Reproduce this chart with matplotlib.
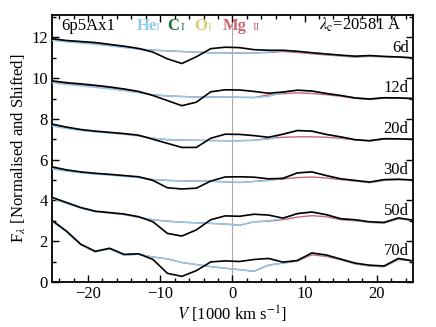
import matplotlib
matplotlib.use("Agg")
import matplotlib.pyplot as plt
from matplotlib.ticker import MultipleLocator

#### -------- データ -------- ####
velocity = [-25, -23, -21, -19, -17, -15, -13, -11, -9, -7, -5, -3, -1,
            1, 3, 5, 7, 9, 11, 13, 15, 17, 19, 21, 23, 25]

epochs = ["6d", "12d", "20d", "30d", "50d", "70d"]
offsets = [10, 8, 6, 4, 2, 0]

total_6d = [11.94, 11.85, 11.80, 11.75, 11.66, 11.57, 11.46, 11.28, 10.95, 10.72, 11.05, 11.45, 11.52,
            11.50, 11.40, 11.37, 11.37, 11.32, 11.25, 11.19, 11.13, 11.08, 11.11, 11.07, 11.04, 11.00]
he_6d = [11.86, 11.78, 11.72, 11.66, 11.58, 11.50, 11.43, 11.38, 11.34, 11.31, 11.28, 11.25, 11.24,
         11.24, 11.24, 11.28, 11.36, 11.31, 11.24, 11.18, 11.12, 11.06, 11.10, 11.06, 11.03, 11.00]
mg_6d = [11.90, 11.81, 11.76, 11.70, 11.62, 11.53, 11.43, 11.38, 11.34, 11.31, 11.28, 11.25, 11.24,
         11.24, 11.24, 11.26, 11.31, 11.26, 11.20, 11.14, 11.09, 11.03, 11.07, 11.05, 11.03, 11.00]

total_12d = [9.87, 9.78, 9.72, 9.65, 9.57, 9.47, 9.35, 9.15, 8.90, 8.65, 8.82, 9.33, 9.43,
             9.42, 9.35, 9.26, 9.32, 9.41, 9.37, 9.25, 9.15, 9.03, 8.98, 9.04, 9.03, 9.00]
he_12d = [9.77, 9.69, 9.62, 9.55, 9.47, 9.38, 9.28, 9.18, 9.13, 9.10, 9.08, 9.07, 9.07,
          9.06, 9.05, 9.10, 9.30, 9.41, 9.37, 9.25, 9.15, 9.03, 8.98, 9.04, 9.03, 9.00]
mg_12d = [9.83, 9.74, 9.68, 9.61, 9.53, 9.43, 9.31, 9.18, 9.13, 9.10, 9.08, 9.07, 9.07,
          9.06, 9.05, 9.18, 9.24, 9.28, 9.25, 9.19, 9.11, 9.01, 8.95, 9.02, 9.02, 9.00]

total_20d = [7.75, 7.60, 7.48, 7.40, 7.34, 7.28, 7.20, 7.00, 6.80, 6.60, 6.60, 7.05, 7.25,
             7.24, 7.18, 7.10, 7.25, 7.43, 7.40, 7.24, 7.12, 6.98, 6.93, 7.03, 7.02, 7.00]
he_20d = [7.65, 7.53, 7.43, 7.36, 7.30, 7.24, 7.16, 7.05, 6.98, 6.96, 6.95, 6.94, 6.93,
          6.93, 6.95, 7.00, 7.25, 7.43, 7.40, 7.24, 7.10, 6.97, 6.92, 7.02, 7.02, 7.00]
mg_20d = [7.70, 7.56, 7.45, 7.38, 7.32, 7.26, 7.18, 7.05, 6.98, 6.96, 6.95, 6.94, 6.93,
          6.93, 6.95, 7.05, 7.10, 7.12, 7.12, 7.10, 7.05, 6.97, 6.92, 7.00, 7.02, 7.00]

total_30d = [5.65, 5.50, 5.40, 5.33, 5.28, 5.22, 5.16, 4.98, 4.62, 4.56, 4.60, 4.95, 5.15,
             5.16, 5.14, 5.06, 5.08, 5.35, 5.40, 5.22, 5.06, 4.98, 4.90, 5.02, 5.04, 5.00]
he_30d = [5.55, 5.43, 5.35, 5.29, 5.24, 5.18, 5.12, 5.02, 4.98, 4.96, 4.95, 4.94, 4.91,
          4.88, 4.93, 4.97, 5.10, 5.35, 5.40, 5.22, 5.05, 4.97, 4.88, 5.00, 5.03, 5.00]
mg_30d = [5.60, 5.46, 5.37, 5.31, 5.26, 5.20, 5.14, 5.02, 4.98, 4.96, 4.95, 4.94, 4.91,
          4.88, 4.93, 5.00, 5.05, 5.12, 5.15, 5.10, 5.02, 4.95, 4.87, 4.98, 5.02, 5.00]

total_50d = [4.15, 3.90, 3.65, 3.47, 3.40, 3.33, 3.20, 2.95, 2.38, 2.25, 2.55, 3.05, 3.24,
             3.22, 3.32, 3.28, 3.13, 3.35, 3.43, 3.30, 3.10, 3.05, 2.95, 2.92, 3.14, 3.03]
he_50d = [4.10, 3.85, 3.62, 3.44, 3.38, 3.30, 3.17, 3.05, 2.98, 2.93, 2.90, 2.87, 2.84,
          2.78, 2.95, 3.00, 3.10, 3.35, 3.43, 3.30, 3.10, 3.03, 2.93, 2.90, 3.12, 3.02]
mg_50d = [4.12, 3.87, 3.63, 3.45, 3.39, 3.31, 3.18, 3.05, 2.98, 2.93, 2.90, 2.87, 2.84,
          2.78, 2.95, 2.98, 3.05, 3.18, 3.25, 3.20, 3.05, 3.00, 2.92, 2.88, 3.10, 3.02]

total_70d = [3.02, 2.50, 1.85, 1.50, 1.65, 1.35, 1.38, 1.10, 0.42, 0.27, 0.55, 0.98, 1.03,
             1.00, 1.10, 1.15, 0.97, 1.05, 1.42, 1.32, 1.12, 0.92, 0.82, 0.78, 1.15, 1.03]
he_70d = [2.98, 2.45, 1.82, 1.47, 1.62, 1.30, 1.35, 1.22, 1.13, 0.95, 0.85, 0.75, 0.67,
          0.60, 0.52, 0.82, 0.92, 1.02, 1.40, 1.30, 1.10, 0.90, 0.80, 0.76, 1.13, 1.02]
mg_70d = [3.00, 2.47, 1.83, 1.48, 1.63, 1.32, 1.36, 1.22, 1.13, 0.95, 0.85, 0.75, 0.67,
          0.60, 0.52, 0.82, 0.92, 1.02, 1.33, 1.25, 1.08, 0.88, 0.78, 0.74, 1.10, 1.02]

totals = [total_6d, total_12d, total_20d, total_30d, total_50d, total_70d]
he_models = [he_6d, he_12d, he_20d, he_30d, he_50d, he_70d]
mg_models = [mg_6d, mg_12d, mg_20d, mg_30d, mg_50d, mg_70d]

#### -------- グラフ設定 -------- ####
plt.rcParams["font.size"] = 12
plt.rcParams["font.family"] = "Liberation Serif"
plt.rcParams["mathtext.fontset"] = "stix"
plt.rcParams["xtick.direction"] = "in"
plt.rcParams["ytick.direction"] = "in"

c_he = "#88CCEE"
c_c = "#117733"
c_o = "#DDCC77"
c_mg = "#CC6677"

fig = plt.figure(figsize=(4.36, 3.27), dpi=100)
ax = fig.add_axes([0.119, 0.138, 0.828, 0.816])

ax.axvline(0, color="#a8a8b8", lw=0.8, zorder=1)

for name, off, tot, he, mg in zip(epochs, offsets, totals, he_models, mg_models):
    ax.plot(velocity, mg, color=c_mg, lw=1.0, zorder=2)
    ax.plot(velocity, he, color=c_he, lw=1.0, zorder=3)
    ax.plot(velocity, tot, color="black", lw=1.2, zorder=4)
    ax.text(24.4, off + 1.3, name, ha="right", va="baseline", fontsize=12)

# 凡例代わりのテキスト
y_leg = 12.38
ax.text(-23.7, y_leg, "6p5Ax1", ha="left", va="baseline", fontsize=12)
ax.text(-13.25, y_leg, "He", color=c_he, fontweight="bold", fontsize=12, va="baseline")
ax.text(-10.6, y_leg, "I", color=c_he, fontsize=8, va="baseline")
ax.text(-8.96, y_leg, "C", color=c_c, fontweight="bold", fontsize=12, va="baseline")
ax.text(-7.2, y_leg, "I", color=c_c, fontsize=8, va="baseline")
ax.text(-5.3, y_leg, "O", color=c_o, fontweight="bold", fontsize=12, va="baseline")
ax.text(-3.4, y_leg, "I", color=c_o, fontsize=8, va="baseline")
ax.text(-1.3, y_leg, "Mg", color=c_mg, fontweight="bold", fontsize=12, va="baseline")
ax.text(2.8, y_leg, "II", color=c_mg, fontsize=8, va="baseline")
ax.text(23.4, y_leg, r"$\lambda_{\rm c}$=20581 Å", ha="right", va="baseline", fontsize=12)

ax.set_xlim(-25, 25)
ax.set_ylim(0, 13.1)
ax.xaxis.set_major_locator(MultipleLocator(10))
ax.xaxis.set_minor_locator(MultipleLocator(2))
ax.yaxis.set_major_locator(MultipleLocator(2))
ax.yaxis.set_minor_locator(MultipleLocator(1))
ax.tick_params(which="both", top=True, right=True, width=1.0)
ax.tick_params(which="major", length=5, pad=3)
ax.tick_params(which="minor", length=3)
for sp in ax.spines.values():
    sp.set_linewidth(1.3)

ax.set_xlabel(r"$V$ [1000 km s$^{-1}$]", labelpad=1)
ax.set_ylabel(r"F$_\lambda$ [Normalised and Shifted]", labelpad=2)

fig.savefig("out.png", dpi=100)
